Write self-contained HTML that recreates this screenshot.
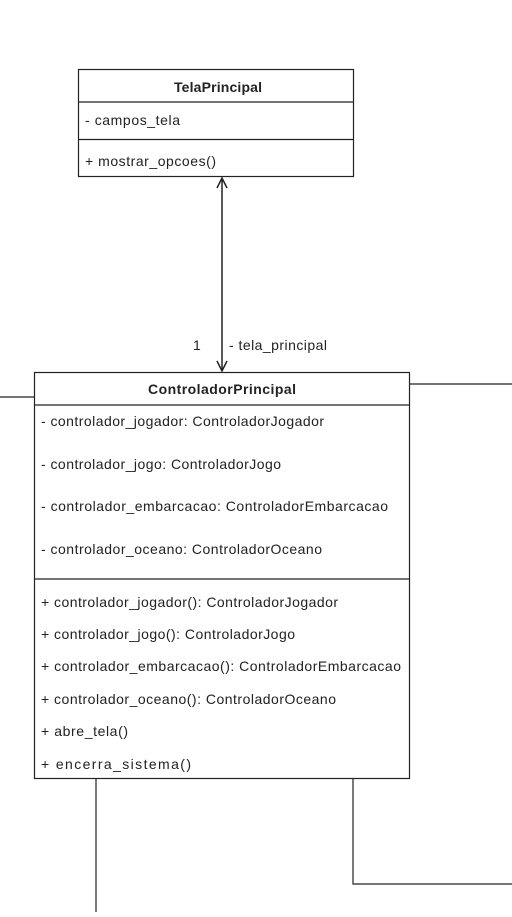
<!DOCTYPE html>
<html><head><style>
body{margin:0;background:#fff;width:512px;height:912px;overflow:hidden;}
svg text{font-family:"Liberation Sans",Arial,sans-serif;font-size:14px;fill:#222;}
</style></head><body>
<svg width="512" height="912" viewBox="0 0 512 912">
<g stroke="#222" stroke-width="1.2" fill="none">
<rect x="78.5" y="69.5" width="275" height="107" fill="#fff"/>
<line x1="78" y1="102" x2="353" y2="102"/>
<line x1="78" y1="139.5" x2="353" y2="139.5"/>
<line x1="222" y1="178" x2="222" y2="371" stroke-width="1.5"/>
<polyline points="217,188 222,178 227,188" stroke-width="1.5"/>
<polyline points="217,361 222,371 227,361" stroke-width="1.5"/>
<rect x="34.5" y="372.5" width="375" height="406" fill="#fff"/>
<line x1="34" y1="405" x2="409" y2="405"/>
<line x1="34" y1="579" x2="409" y2="579"/>
<line x1="0" y1="397" x2="34" y2="397"/>
<line x1="409" y1="384" x2="512" y2="384"/>
<line x1="96" y1="779" x2="96" y2="912"/>
<polyline points="353,779 353,884 512,884"/>
</g>
<text x="174" y="92" textLength="88" font-weight="bold">TelaPrincipal</text>
<text x="85" y="125" textLength="95">- campos_tela</text>
<text x="85" y="166" textLength="131">+ mostrar_opcoes()</text>
<text x="193" y="350">1</text>
<text x="229" y="350" textLength="98">- tela_principal</text>
<text x="148" y="394" textLength="148" font-weight="bold">ControladorPrincipal</text>
<text x="41" y="426" textLength="283">- controlador_jogador: ControladorJogador</text>
<text x="41" y="469" textLength="240">- controlador_jogo: ControladorJogo</text>
<text x="41" y="511" textLength="347">- controlador_embarcacao: ControladorEmbarcacao</text>
<text x="41" y="554" textLength="281">- controlador_oceano: ControladorOceano</text>
<text x="41" y="607" textLength="297">+ controlador_jogador(): ControladorJogador</text>
<text x="41" y="639" textLength="254">+ controlador_jogo(): ControladorJogo</text>
<text x="41" y="671" textLength="360">+ controlador_embarcacao(): ControladorEmbarcacao</text>
<text x="41" y="704" textLength="295">+ controlador_oceano(): ControladorOceano</text>
<text x="41" y="736" textLength="87">+ abre_tela()</text>
<text x="41" y="769" textLength="150">+ encerra_sistema()</text>
</svg>
</body></html>
